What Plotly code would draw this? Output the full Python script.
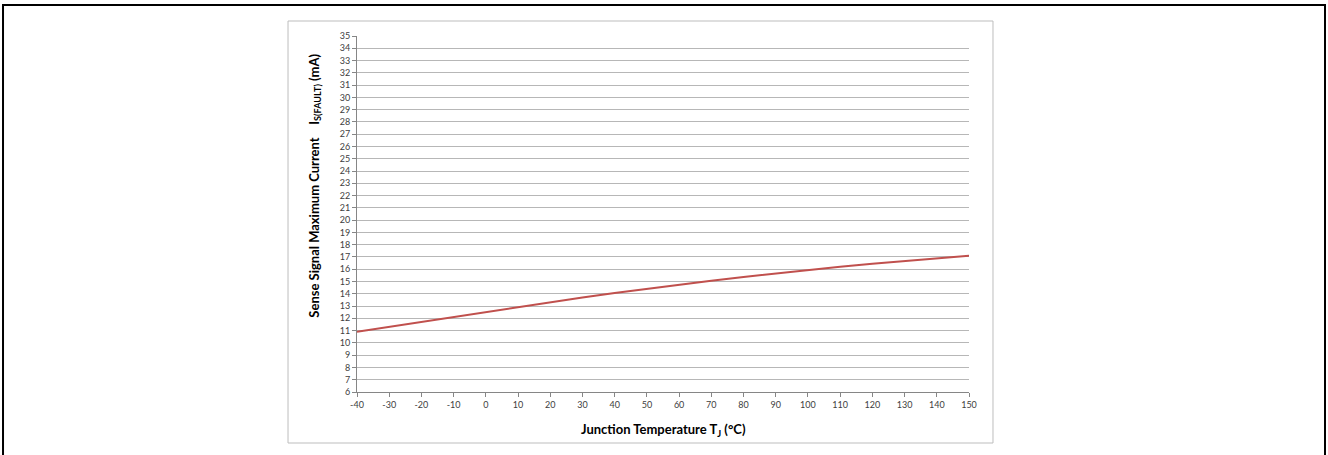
import plotly.graph_objects as go

# Junction temperature (°C) and sense signal max current (mA)
temp_c = [-40, -30, -20, -10, 0, 10, 20, 30, 40, 50, 60, 70, 80, 90, 100, 110, 120, 130, 140, 150]
is_fault_ma = [10.9, 11.3, 11.72, 12.14, 12.55, 12.95, 13.33, 13.7, 14.07, 14.42,
               14.76, 15.07, 15.37, 15.66, 15.94, 16.2, 16.45, 16.68, 16.9, 17.1]

x_ticks = list(range(-40, 151, 10))
x_ticktext = [str(v) for v in x_ticks]  # plain hyphen minus like the original
y_ticks = list(range(6, 36))

FONT = "Lato, 'Open Sans', sans-serif"

fig = go.Figure()
fig.add_trace(go.Scatter(
    x=temp_c, y=is_fault_ma, mode="lines",
    line=dict(color="#c0504d", width=2), showlegend=False,
    hovertemplate="%{x} °C<br>%{y:.2f} mA<extra></extra>",
))

axis_common = dict(
    showline=True, linecolor="#868686", linewidth=1,
    ticks="outside", ticklen=4, tickcolor="#868686",
    tickfont=dict(family=FONT, size=9, color="#404040"),
    zeroline=False,
)
fig.update_xaxes(range=[-40, 150], tickvals=x_ticks, ticktext=x_ticktext,
                 showgrid=False, **axis_common)
fig.update_yaxes(range=[6, 35], tickvals=y_ticks, showgrid=True,
                 gridcolor="#b7b7b7", gridwidth=1, **axis_common)

# frames: outer black page border and grey chart border
fig.add_shape(type="rect", xref="paper", yref="paper",
              x0=-0.5784, x1=1.5817, y0=-0.2, y1=1.0871,
              line=dict(color="black", width=2), layer="below")
fig.add_shape(type="rect", xref="paper", yref="paper",
              x0=-0.1127, x1=1.0392, y0=-0.1433, y1=1.0421,
              line=dict(color="#bdbdbd", width=1), layer="below")

fig.add_annotation(
    text="Junction Temperature T<sub>J</sub> (°C)",
    xref="paper", yref="paper", x=0.5, y=-0.075, yanchor="top", showarrow=False,
    font=dict(family=FONT, size=13, color="black", weight="bold"),
)
fig.add_annotation(
    text="Sense Signal Maximum Current    I<sub>S(FAULT)</sub> (mA)",
    xref="paper", yref="paper", x=-0.088, y=0.58, textangle=-90, showarrow=False,
    font=dict(family=FONT, size=13, color="black", weight="bold"),
)

fig.update_layout(
    width=1328, height=455,
    margin=dict(l=357, r=359, t=36, b=63),
    plot_bgcolor="white", paper_bgcolor="white",
)

fig.write_html("out.html", config={"displayModeBar": False},
               post_script="document.body.style.margin='0';")
